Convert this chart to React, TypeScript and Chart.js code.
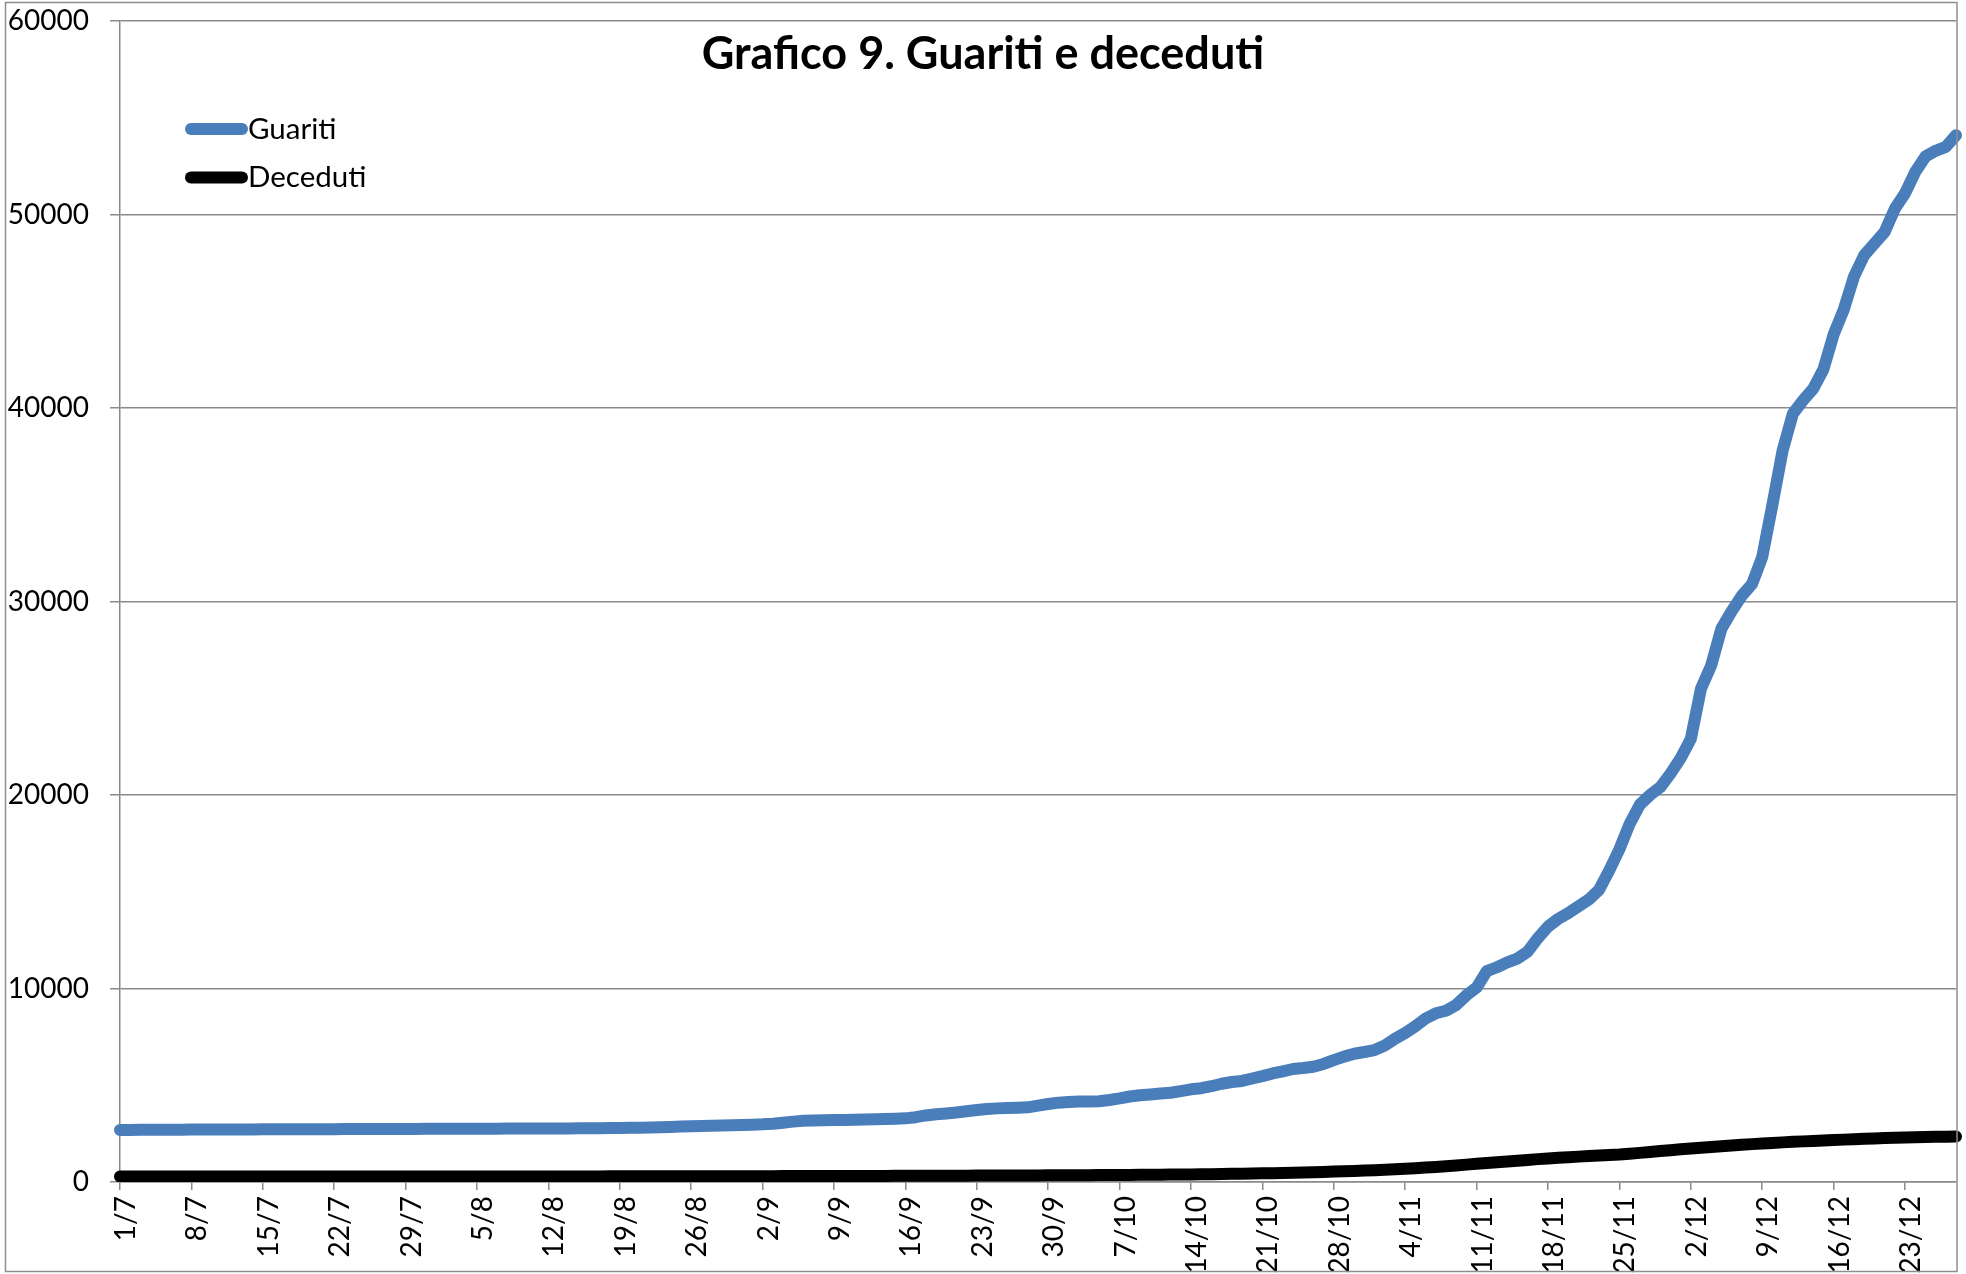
import React, { useEffect, useRef } from "react";
import { Chart, registerables } from "chart.js";

Chart.register(...registerables);

// ---------- data ----------
const START_DAY = 1;
const START_MONTH = 7;
const MONTH_LENGTHS: Record<number, number> = { 7: 31, 8: 31, 9: 30, 10: 31, 11: 30, 12: 31 };
const N_DAYS = 181; // 1/7 .. 28/12

function buildDateLabels(): string[] {
  const out: string[] = [];
  let d = START_DAY;
  let m = START_MONTH;
  for (let i = 0; i < N_DAYS; i++) {
    out.push(`${d}/${m}`);
    d++;
    if (d > MONTH_LENGTHS[m]) {
      d = 1;
      m++;
    }
  }
  return out;
}

const categories: string[] = buildDateLabels();

const guariti: number[] = [
  2690, 2693, 2697, 2700, 2702, 2704, 2706,
  2708, 2710, 2712, 2713, 2715, 2717, 2718,
  2720, 2722, 2723, 2725, 2727, 2728, 2730,
  2731, 2733, 2735, 2736, 2738, 2740, 2741,
  2743, 2745, 2746, 2748, 2750, 2751, 2753,
  2754, 2756, 2758, 2759, 2761, 2762, 2764,
  2766, 2768, 2770, 2773, 2777, 2782, 2787,
  2792, 2798, 2805, 2815, 2828, 2845, 2865,
  2885, 2897, 2905, 2915, 2928, 2945, 2962,
  2980, 3010, 3060, 3120, 3165, 3178, 3190,
  3200, 3210, 3220, 3230, 3242, 3256, 3272,
  3290, 3350, 3440, 3500, 3545, 3595, 3655,
  3720, 3775, 3805, 3825, 3840, 3860, 3950,
  4030, 4100, 4140, 4160, 4160, 4175, 4240,
  4320, 4420, 4480, 4525, 4570, 4615, 4700,
  4790, 4850, 4950, 5080, 5170, 5225, 5350,
  5470, 5610, 5720, 5840, 5890, 5960, 6100,
  6300, 6480, 6630, 6720, 6820, 7050, 7400,
  7700, 8050, 8450, 8720, 8850, 9150, 9650,
  10050, 10900, 11100, 11350, 11550, 11900, 12600,
  13200, 13600, 13900, 14250, 14600, 15100, 16100,
  17200, 18500, 19500, 20000, 20400, 21100, 21900,
  22900, 25500, 26700, 28600, 29500, 30300, 30900,
  32300, 35000, 37800, 39700, 40400, 41000, 42000,
  43800, 45100, 46800, 47900, 48500, 49100, 50300,
  51100, 52200, 53000, 53300, 53500, 54100,
];

const deceduti: number[] = [
  281, 281, 281, 281, 282, 282, 282,
  282, 282, 282, 282, 283, 283, 283,
  283, 283, 283, 283, 283, 283, 283,
  283, 283, 284, 284, 284, 284, 284,
  284, 285, 285, 285, 285, 285, 286,
  286, 286, 286, 287, 287, 287, 288,
  288, 288, 289, 289, 290, 290, 291,
  291, 292, 292, 293, 294, 294, 295,
  296, 297, 298, 298, 299, 300, 301,
  302, 303, 304, 305, 306, 307, 309,
  310, 311, 312, 313, 314, 316, 317,
  318, 320, 321, 323, 325, 327, 329,
  330, 332, 334, 336, 338, 340, 342,
  344, 346, 348, 351, 354, 357, 360,
  363, 366, 370, 374, 378, 383, 388,
  393, 399, 405, 412, 420, 428, 437,
  447, 457, 468, 480, 492, 505, 518,
  540, 556, 572, 590, 610, 632, 655,
  680, 712, 745, 780, 818, 857, 898,
  940, 980, 1020, 1062, 1102, 1142, 1182,
  1220, 1252, 1282, 1312, 1340, 1366, 1392,
  1420, 1462, 1506, 1552, 1598, 1644, 1688,
  1730, 1770, 1810, 1848, 1885, 1922, 1957,
  1990, 2020, 2048, 2075, 2100, 2125, 2148,
  2170, 2190, 2210, 2230, 2250, 2268, 2285,
  2300, 2312, 2323, 2333, 2342, 2350,
];

const yMin = 0;
const yMax = 60000;
const yStep = 10000;
const xLabelEvery = 7;

const titleText = "Grafico 9. Guariti e deceduti";
const seriesNames = ["Guariti", "Deceduti"];
const seriesColors = ["#4A7EBB", "#000000"];

// ---------- styles ----------
const FONT = "Lato";
const GRID = "#8a8a8a";
const W = 1966;
const H = 1274;

const overlayPlugin = {
  id: "overlay",
  afterDraw(chart: any) {
    const ctx = chart.ctx as CanvasRenderingContext2D;
    ctx.save();
    // outer chart border
    ctx.strokeStyle = "#8e8e8e";
    ctx.lineWidth = 1.5;
    ctx.strokeRect(5.5, 2.5, 1951.5, 1269);
    // title
    ctx.fillStyle = "#000";
    ctx.font = `bold 45px ${FONT}`;
    ctx.textAlign = "center";
    ctx.textBaseline = "alphabetic";
    ctx.fillText(titleText, 983, 69);
    // legend
    chart.data.datasets.forEach((ds: any, k: number) => {
      const y = 129 + k * 48.5;
      ctx.strokeStyle = ds.borderColor;
      ctx.lineWidth = 12;
      ctx.lineCap = "round";
      ctx.beginPath();
      ctx.moveTo(191, y);
      ctx.lineTo(242, y);
      ctx.stroke();
      ctx.fillStyle = "#000";
      ctx.font = `29.5px ${FONT}`;
      ctx.textAlign = "left";
      ctx.textBaseline = "middle";
      ctx.fillText(ds.label, 248, y);
    });
    ctx.restore();
  },
};

export default function App() {
  const canvasRef = useRef<HTMLCanvasElement | null>(null);

  useEffect(() => {
    const canvas = canvasRef.current;
    if (!canvas) return;
    const chart = new Chart(canvas, {
      type: "line",
      data: {
        labels: categories,
        datasets: [
          {
            label: seriesNames[0],
            data: guariti,
            borderColor: seriesColors[0],
            backgroundColor: seriesColors[0],
            borderWidth: 12,
            pointRadius: 0,
            tension: 0,
            fill: false,
            borderCapStyle: "round",
            borderJoinStyle: "round",
          },
          {
            label: seriesNames[1],
            data: deceduti,
            borderColor: seriesColors[1],
            backgroundColor: seriesColors[1],
            borderWidth: 12,
            pointRadius: 0,
            tension: 0,
            fill: false,
            borderCapStyle: "round",
            borderJoinStyle: "round",
          },
        ],
      },
      options: {
        responsive: false,
        animation: false,
        devicePixelRatio: 1,
        layout: { padding: { left: 0, top: 21, right: 10, bottom: 0 } },
        plugins: {
          legend: { display: false },
          title: { display: false },
          tooltip: { enabled: false },
        },
        scales: {
          x: {
            type: "category",
            offset: false,
            grid: {
              display: true,
              drawOnChartArea: false,
              drawTicks: true,
              tickLength: 8,
              lineWidth: 1.5,
              color: (c: any) => (c.index % xLabelEvery === 0 ? GRID : "rgba(0,0,0,0)"),
            },
            border: { display: true, color: GRID, width: 1.5 },
            ticks: {
              autoSkip: false,
              maxRotation: 90,
              minRotation: 90,
              padding: 6,
              labelOffset: 6,
              color: "#000",
              font: { family: FONT, size: 28, lineHeight: 0.01 },
              callback: (_v: any, idx: number) => (idx % xLabelEvery === 0 ? categories[idx] : ""),
            },
            afterFit: (scale: any) => {
              scale.height = 92;
            },
          },
          y: {
            min: yMin,
            max: yMax,
            grid: { color: GRID, lineWidth: 1.5, tickLength: 10, drawTicks: true },
            border: { display: true, color: GRID, width: 1.5 },
            ticks: {
              stepSize: yStep,
              padding: 21,
              color: "#000",
              font: { family: FONT, size: 28, lineHeight: 0.01 },
              callback: (v: any) => String(v),
            },
            afterFit: (scale: any) => {
              scale.width = 120;
            },
          },
        },
      },
      plugins: [overlayPlugin],
    } as any);
    return () => chart.destroy();
  }, []);

  return (
    <div style={{ position: "absolute", left: 0, top: 0, width: W, height: H, background: "#fff" }}>
      <canvas ref={canvasRef} width={W} height={H} style={{ display: "block", width: W, height: H }} />
    </div>
  );
}
